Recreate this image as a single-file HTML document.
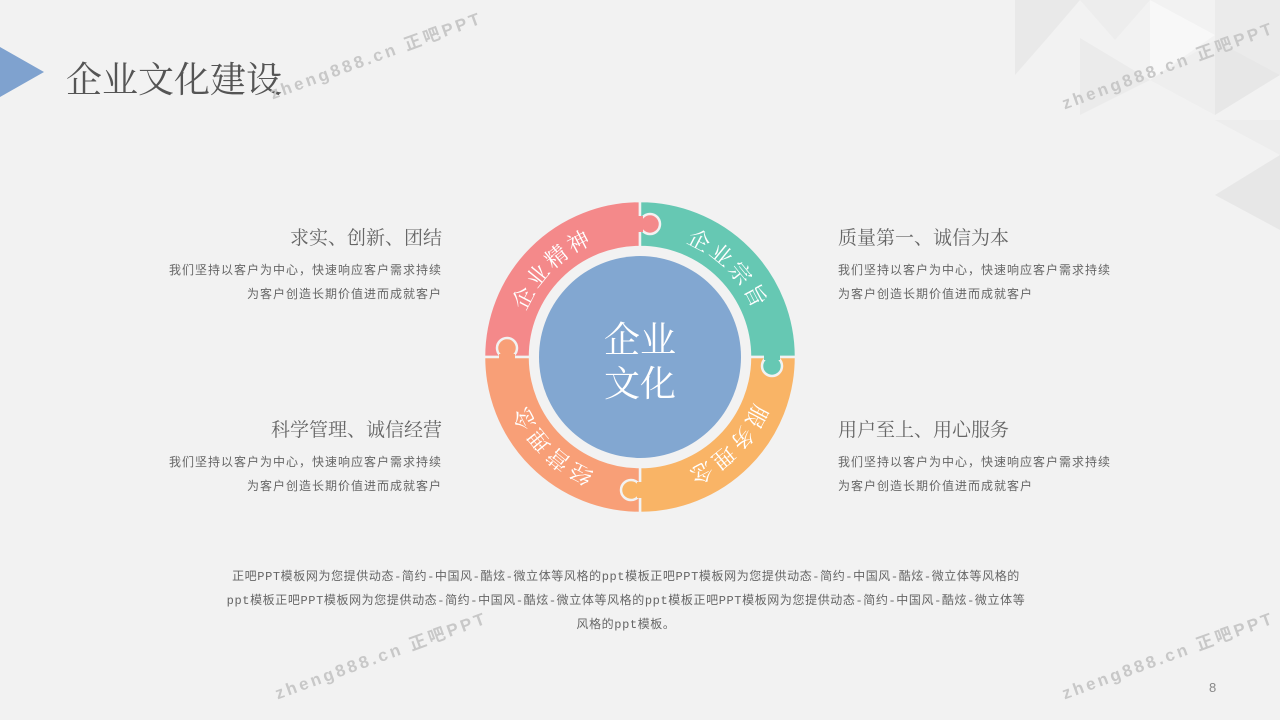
<!DOCTYPE html>
<html><head><meta charset="utf-8"><style>
html,body{margin:0;padding:0}
body{width:1280px;height:720px;background:#f2f2f2;position:relative;overflow:hidden;font-family:"Liberation Sans","Noto Sans CJK SC",sans-serif}
.t{position:absolute;white-space:nowrap}
.h{font-size:19px;color:#666;font-family:"Liberation Serif","Noto Serif CJK SC",serif}
.b{font-size:12px;color:#666;line-height:24px;letter-spacing:1px;font-family:"Liberation Mono","Noto Sans CJK SC",monospace}
.wm{position:absolute;color:#c8c8c8;font-size:17px;font-weight:bold;letter-spacing:3px;transform:rotate(-20deg);transform-origin:left center;white-space:nowrap}
</style></head><body>
<svg width="1280" height="720" style="position:absolute;left:0;top:0">
  <g>
    <polygon points="1015,0 1080,0 1050,35 1015,75" fill="#e9e9e9"/>
    <polygon points="1080,0 1150,0 1115,40" fill="#ededed"/>
    <polygon points="1150,0 1215,35 1150,80" fill="#f8f8f8"/>
    <polygon points="1215,0 1280,0 1280,75 1215,40" fill="#ebebeb"/>
    <polygon points="1080,38 1150,80 1080,115" fill="#ebebeb"/>
    <polygon points="1215,40 1280,75 1215,115" fill="#e7e7e7"/>
    <polygon points="1150,80 1215,40 1215,115" fill="#eeeeee"/>
    <polygon points="1215,120 1280,155 1280,120" fill="#ededed"/>
    <polygon points="1215,195 1280,155 1280,230" fill="#e7e7e7"/>
  </g>
  <polygon points="0,47 44,72 0,97" fill="#7fa2cf"/>
  <g stroke="#f2f2f2" stroke-width="2.5">
    <path d="M484,357 A156,156 0 0 1 640,201 L640,247 A110,110 0 0 0 530,357 Z" fill="#f4898a"/>
    <path d="M640,201 A156,156 0 0 1 796,357 L750,357 A110,110 0 0 0 640,247 Z" fill="#66c8b3"/>
    <path d="M796,357 A156,156 0 0 1 640,513 L640,467 A110,110 0 0 0 750,357 Z" fill="#f9b466"/>
    <path d="M640,513 A156,156 0 0 1 484,357 L530,357 A110,110 0 0 0 640,467 Z" fill="#f89f77"/>
    <circle cx="650" cy="224" r="10" fill="#f4898a"/>
    <circle cx="507" cy="348" r="10" fill="#f89f77"/>
    <circle cx="772" cy="366" r="10" fill="#66c8b3"/>
    <circle cx="631" cy="490" r="10" fill="#f9b466"/>
  </g>
  <g fill="#f4898a"><rect x="637" y="216" width="6" height="16"/></g>
  <g fill="#f89f77"><rect x="499" y="354" width="16" height="6"/></g>
  <g fill="#66c8b3"><rect x="764" y="354" width="16" height="6"/></g>
  <g fill="#f9b466"><rect x="637" y="482" width="6" height="16"/></g>
  <circle cx="640" cy="357" r="101" fill="#82a7d1"/>
  <defs><path id="cp" d="M517,357 A123,123 0 1 1 763,357 A123,123 0 1 1 517,357"/></defs>
  <g fill="#fff" font-size="22" font-family="Liberation Serif,Noto Serif CJK SC,serif" letter-spacing="3">
    <text><textPath href="#cp" startOffset="12.5%" text-anchor="middle">企业精神</textPath></text>
    <text><textPath href="#cp" startOffset="37.5%" text-anchor="middle">企业宗旨</textPath></text>
    <text><textPath href="#cp" startOffset="62.5%" text-anchor="middle">服务理念</textPath></text>
    <text><textPath href="#cp" startOffset="87.5%" text-anchor="middle">经营理念</textPath></text>
  </g>
  <g fill="#fff" font-size="36" font-family="Liberation Serif,Noto Serif CJK SC,serif" text-anchor="middle">
    <text x="640" y="352">企业</text>
    <text x="640" y="396">文化</text>
  </g>
</svg>
<div class="t" style="left:66px;top:52px;font-size:36px;color:#555;font-family:'Liberation Serif','Noto Serif CJK SC',serif">企业文化建设</div>

<div class="t h" style="right:838px;top:223px">求实、创新、团结</div>
<div class="t b" style="right:838px;top:259px;text-align:right">我们坚持以客户为中心，快速响应客户需求持续<br>为客户创造长期价值进而成就客户</div>
<div class="t h" style="right:838px;top:415px">科学管理、诚信经营</div>
<div class="t b" style="right:838px;top:451px;text-align:right">我们坚持以客户为中心，快速响应客户需求持续<br>为客户创造长期价值进而成就客户</div>

<div class="t h" style="left:838px;top:223px">质量第一、诚信为本</div>
<div class="t b" style="left:838px;top:259px">我们坚持以客户为中心，快速响应客户需求持续<br>为客户创造长期价值进而成就客户</div>
<div class="t h" style="left:838px;top:415px">用户至上、用心服务</div>
<div class="t b" style="left:838px;top:451px">我们坚持以客户为中心，快速响应客户需求持续<br>为客户创造长期价值进而成就客户</div>

<div class="t b" style="left:-14px;width:1280px;top:565px;text-align:center;white-space:normal;letter-spacing:0.6px">正吧PPT模板网为您提供动态-简约-中国风-酷炫-微立体等风格的ppt模板正吧PPT模板网为您提供动态-简约-中国风-酷炫-微立体等风格的<br>ppt模板正吧PPT模板网为您提供动态-简约-中国风-酷炫-微立体等风格的ppt模板正吧PPT模板网为您提供动态-简约-中国风-酷炫-微立体等<br>风格的ppt模板。</div>

<div class="t" style="left:1209px;top:680px;font-size:13px;color:#888">8</div>

<div class="wm" style="left:270px;top:80px">zheng888.cn 正吧PPT</div>
<div class="wm" style="left:1062px;top:90px">zheng888.cn 正吧PPT</div>
<div class="wm" style="left:275px;top:680px">zheng888.cn 正吧PPT</div>
<div class="wm" style="left:1062px;top:680px">zheng888.cn 正吧PPT</div>
</body></html>
